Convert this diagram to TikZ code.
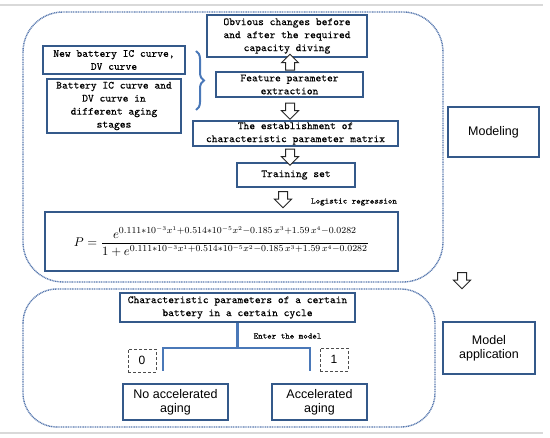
\documentclass[tikz,border=0pt]{standalone}
\usepackage{fontspec,amsmath,graphicx}
\setsansfont{Liberation Sans}
\newfontfamily\boxfont{Latin Modern Mono}[FakeBold=0.1]
\usetikzlibrary{shapes.arrows,decorations.pathreplacing}

\begin{document}
\begin{tikzpicture}[x=1pt,y=-1pt,
    mbox/.style={draw=boxblue,line width=1.3pt,fill=white,inner sep=1pt,align=center,
      font=\fontsize{11}{13}\selectfont\boxfont},
    sbox/.style={draw=boxblue,line width=1.3pt,fill=white,inner sep=1pt,align=center,
      font=\fontsize{12.5}{14}\selectfont\sffamily},
    numbox/.style={draw=black!70,densely dashed,line width=0.8pt,minimum width=28pt,
      minimum height=23pt,inner sep=0pt,font=\fontsize{12}{14}\selectfont\sffamily},
    hollow/.style={single arrow,draw=black!85,fill=white,line width=1pt,inner xsep=0pt,
      inner ysep=4pt,minimum height=16pt,minimum width=17pt,single arrow head extend=4pt},
    frame/.style={draw=frameblue,line width=1.4pt,dash pattern=on 1pt off 0.7pt,
      rounded corners=40pt},
    tree/.style={draw=treeblue,line width=2.4pt},
    note/.style={font=\fontsize{8.5}{10}\selectfont\boxfont}]
    \definecolor{boxblue}{HTML}{34598A}
    \definecolor{treeblue}{HTML}{4A78B8}
    \definecolor{frameblue}{HTML}{5778AE}
    \useasboundingbox (0,0) rectangle (550,438);
    % page rules
    \draw[black!15,line width=1.6pt] (0,5) -- (543,5);
    \draw[black!15,line width=1.6pt] (0,433) -- (543,433);
    % the two stages
    \draw[frame] (23,12) rectangle (443,282);
    \draw[frame,rounded corners=34pt] (23,289) rectangle (435,427);
    % modeling
    \node[mbox,minimum width=160pt,minimum height=42pt] (obv) at (287,36)
      {Obvious changes before\\and after the required\\capacity diving};
    \node[mbox,minimum width=142pt,minimum height=28pt] (newb) at (114,60)
      {New battery IC curve,\\DV curve};
    \node[mbox,minimum width=134pt,minimum height=54pt] (aged) at (114,106)
      {Battery IC curve and\\DV curve in\\different aging\\stages};
    \node[mbox,minimum width=147pt,minimum height=25pt] (feat) at (289.5,84.5)
      {Feature parameter\\extraction};
    \node[mbox,minimum width=205pt,minimum height=25pt] (estab) at (295.5,133.5)
      {The establishment of\\characteristic parameter matrix};
    \node[mbox,minimum width=118pt,minimum height=24pt] (train) at (296,175)
      {Training set};
    \node[mbox,minimum width=353pt,minimum height=59pt] (model) at (221.5,241.5)
      {\resizebox{295pt}{!}{$\displaystyle P=\frac{e^{0.111\ast10^{-3}x^{1}+0.514\ast10^{-5}x^{2}-0.185\,x^{3}+1.59\,x^{4}-0.0282}}{1+e^{0.111\ast10^{-3}x^{1}+0.514\ast10^{-5}x^{2}-0.185\,x^{3}+1.59\,x^{4}-0.0282}}$}};
    \node[note] (logit) at (354,202) {Logistic regression};
    \draw[treeblue,line width=2pt,decorate,decoration={brace,amplitude=8pt}]
      (196,51) -- (196,110);
    \node[hollow,rotate=90] (a1) at (290,64.5) {};
    \node[hollow,rotate=-90] (a2) at (290,109) {};
    \node[hollow,rotate=-90] (a3) at (290,155) {};
    \node[hollow,rotate=-90] (a4) at (283,197.5) {};
    \node[sbox,minimum width=91pt,minimum height=50pt] (modeling) at (493.5,132) {Modeling};
    % application
    \node[hollow,rotate=-90] (a5) at (462,278.5) {};
    \node[mbox,minimum width=235pt,minimum height=29pt] (charp) at (237.5,307.5)
      {Characteristic parameters of a certain\\battery in a certain cycle};
    \node[note] (enter) at (287.5,336) {Enter the model};
    \coordinate (split) at (237.5,348);
    \coordinate (leftend) at (163,371);
    \coordinate (rightend) at (310,371);
    \draw[tree] (charp.south) -- (split);
    \draw[tree] (leftend) -- (leftend |- split) -- (rightend |- split) -- (rightend);
    \node[numbox] (zero) at (142,360.5) {0};
    \node[numbox] (one) at (334,359.5) {1};
    \node[sbox,minimum width=105pt,minimum height=36pt] (noacc) at (175.5,402)
      {No accelerated\\aging};
    \node[sbox,minimum width=95pt,minimum height=36pt] (acc) at (319.5,402)
      {Accelerated\\aging};
    \node[sbox,minimum width=92pt,minimum height=52pt] (app) at (489,348)
      {Model\\application};
\end{tikzpicture}
\end{document}
